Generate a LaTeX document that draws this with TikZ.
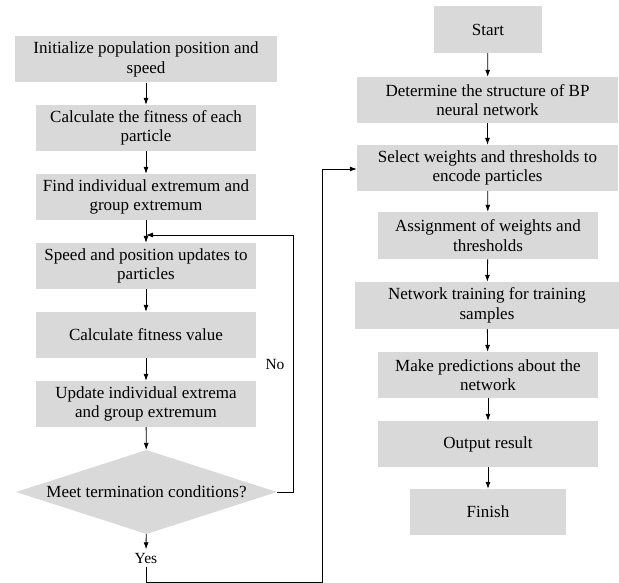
\documentclass[tikz,border=0pt]{standalone}
\usepackage{fontspec}
\setmainfont{Liberation Serif}
\usetikzlibrary{arrows.meta,shapes.geometric,positioning}
\definecolor{boxgray}{RGB}{217,217,217}

\begin{document}
\begin{tikzpicture}[x=1pt,y=-1pt,
    box/.style={fill=boxgray, align=center, inner sep=0pt, minimum height=46pt,
        font=\fontsize{17}{19.5}\selectfont},
    decide/.style={diamond, fill=boxgray, align=center, inner sep=0pt, aspect=3.1,
        font=\fontsize{17}{19.5}\selectfont},
    flow/.style={-{Latex[length=7pt,width=5pt]}, line width=0.8pt},
    link/.style={line width=0.8pt},
    lbl/.style={font=\fontsize{15.5}{17}\selectfont}]
    \useasboundingbox (0,0) rectangle (619,583);

    % Left column: particle swarm optimisation
    \node[box, minimum width=262pt] (init) at (146,59.5) {Initialize population position and\\speed};
    \node[box, minimum width=220pt] (fit) at (146,128) {Calculate the fitness of each\\particle};
    \node[box, minimum width=220pt] (find) at (146,197) {Find individual extremum and\\group extremum};
    \node[box, minimum width=220pt] (upd) at (146,266) {Speed and position updates to\\particles};
    \node[box, minimum width=220pt] (calc) at (146,335) {Calculate fitness value};
    \node[box, minimum width=220pt] (ext) at (146,404) {Update individual extrema\\and group extremum};
    \node[decide, minimum width=261pt, minimum height=84pt] (meet) at (146.5,492) {Meet termination conditions?};
    \node[lbl] (yes) at (146,558) {Yes};

    % Right column: BP neural network
    \node[box, minimum width=108pt, minimum height=47pt] (start) at (488,29.5) {Start};
    \node[box, minimum width=261pt] (struct) at (487.5,100) {Determine the structure of BP\\neural network};
    \node[box, minimum width=261pt] (sel) at (487.5,168) {Select weights and thresholds to\\encode particles};
    \node[box, minimum width=220pt, minimum height=47pt] (assign) at (488,235.5) {Assignment of weights and\\thresholds};
    \node[box, minimum width=264pt, minimum height=47pt] (train) at (487,305.5) {Network training for training\\samples};
    \node[box, minimum width=220pt] (pred) at (488,375) {Make predictions about the\\network};
    \node[box, minimum width=220pt] (out) at (488,444) {Output result};
    \node[box, minimum width=156pt] (fin) at (488,512) {Finish};

    % Arrows of the left column
    \draw[flow] (init) -- (fit);
    \draw[flow] (fit) -- (find);
    \draw[flow] (find) -- (upd);
    \draw[flow] (upd) -- (calc);
    \draw[flow] (calc) -- (ext);
    \draw[flow] (ext) -- (meet);
    \draw[flow] (meet) -- (yes);

    % Loop back when not finished
    \coordinate (back) at (146,235);
    \draw[flow] (meet.east) -- (293,492) |- (back);
    \node[lbl, anchor=east] (no) at (288,365) {No};

    % Pass over to the right column
    \draw[flow] (yes.south) -- (146,582) -| (322,169) -- (sel.west |- 0,169);

    % Arrows of the right column
    \draw[flow] (start) -- (struct);
    \draw[flow] (struct) -- (sel);
    \draw[flow] (sel) -- (assign);
    \draw[flow] (assign) -- (train);
    \draw[flow] (train) -- (pred);
    \draw[flow] (pred) -- (out);
    \draw[flow] (out) -- (fin);
\end{tikzpicture}
\end{document}
